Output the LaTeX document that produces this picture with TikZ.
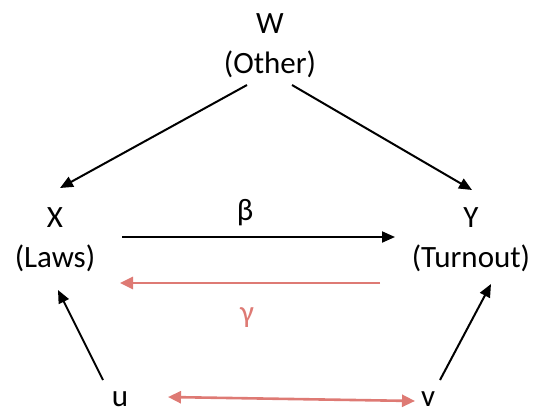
\documentclass[tikz,border=0pt]{standalone}
\usepackage{fontspec}
\setmainfont{Carlito}
\usetikzlibrary{arrows.meta,calc}
\definecolor{salmon}{RGB}{222,122,116}
\begin{document}
\begin{tikzpicture}[x=1pt,y=-1pt,
  lbl/.style={font=\fontsize{31}{40}\selectfont, align=center, inner sep=0pt},
  arr/.style={line width=2pt, -{Triangle[length=13pt,width=11pt]}},
  rarr/.style={line width=2.6pt, salmon, -{Triangle[length=13pt,width=12pt]}},
  rdarr/.style={line width=2.6pt, salmon, {Triangle[length=13pt,width=12pt]}-{Triangle[length=13pt,width=12pt]}}]
\useasboundingbox (0,0) rectangle (543,413);
\node[lbl] (W) at (270,46) {W\\(Other)};
\node[lbl] (X) at (55,240) {X\\(Laws)};
\node[lbl] (Y) at (471,240) {Y\\(Turnout)};
\node[lbl] (beta) at (245,213) {β};
\node[lbl,text=salmon] (gamma) at (247,318) {γ};
\node[lbl] (u) at (120,399) {u};
\node[lbl] (v) at (428,399) {v};
\draw[arr] ($(W)+(-23,39)$) -- ($(X)+(5,-52)$);
\draw[arr] ($(W)+(22,39)$) -- ($(Y)+(1,-50)$);
\draw[arr] ($(X)+(67,-3)$) -- ($(Y)+(-76,-3)$);
\draw[rarr] ($(Y)+(-91,43)$) -- ($(X)+(65,43)$);
\draw[arr] ($(u)+(-17,-19)$) -- ($(X)+(3,50)$);
\draw[arr] ($(v)+(12,-19)$) -- ($(Y)+(20,44)$);
\draw[rdarr] ($(u)+(48,-2)$) -- ($(v)+(-13,2)$);
\end{tikzpicture}
\end{document}
